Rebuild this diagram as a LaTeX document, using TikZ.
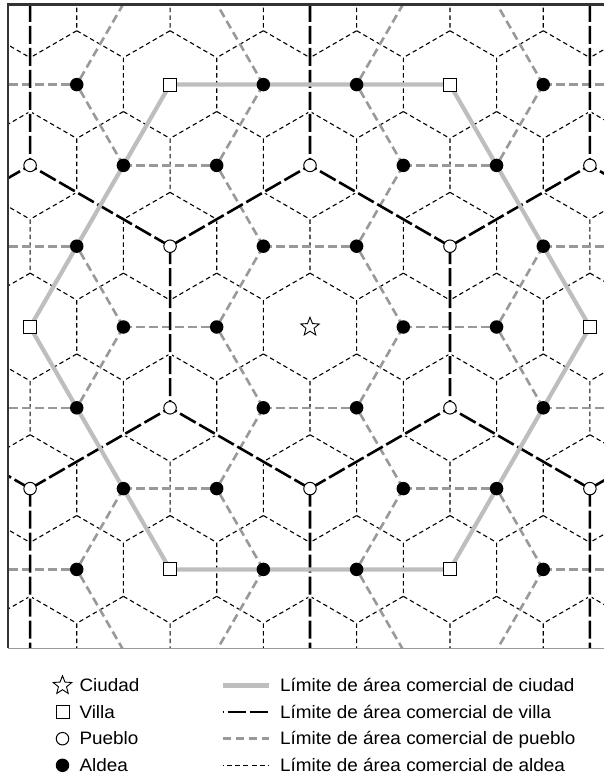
\documentclass[tikz,border=0pt]{standalone}
\usepackage{fontspec}
\setmainfont{Liberation Sans}[FakeStretch=1.05]
\usetikzlibrary{shapes.geometric}
\definecolor{pgrey}{HTML}{999999}
\definecolor{cgrey}{HTML}{BEBEBE}
\definecolor{frm}{HTML}{333333}
\tikzset{
  aldealine/.style={line width=1.1pt, dash pattern=on 4.5pt off 3.2pt, black},
  puebloline/.style={line width=2.6pt, dash pattern=on 8.5pt off 4.5pt, pgrey},
  villaline/.style={line width=2.6pt, dash pattern=on 18pt off 4pt, black},
  villaunder/.style={line width=3.4pt, white},
  ciudadline/.style={line width=4.2pt, cgrey},
  aldeamark/.style={circle, fill=black, minimum size=13.5pt, inner sep=0pt},
  pueblomark/.style={circle, draw=black, fill=white, line width=1pt, minimum size=12.5pt, inner sep=0pt},
  villamark/.style={rectangle, draw=black, fill=white, line width=1pt, minimum size=13pt, inner sep=0pt},
  ciudadmark/.style={star, star points=5, star point ratio=2.3, draw=black, fill=white, line width=0.9pt, minimum size=19.5pt, inner sep=0pt},
  lbl/.style={anchor=base west, inner sep=0pt, font=\fontsize{18}{20}\selectfont},
}
\def\A{93.3}
\def\Hh{80.8}
\def\CX{310}
\def\CY{327}
\begin{document}
\begin{tikzpicture}[x=1pt,y=-1pt]
\useasboundingbox (0,0) rectangle (604,778);
% lattice coordinates
\foreach \j in {-6,...,6}{\foreach \i in {-10,...,10}{
  \coordinate (p\i x\j) at ({\CX+\A*(\i)+\A/2*(\j)},{\CY-\Hh*(\j)});
}}
\begin{scope}
\clip (8,4.5) rectangle (612,648);
% aldea boundaries
\foreach \j in {-5,...,5}{\foreach \i in {-8,...,8}{
  \draw[aldealine, shift={(p\i x\j)}] (0,-53.87) -- (46.65,-26.93) -- (46.65,26.93) -- (0,53.87);
}}
% villa underlay
\foreach \j in {-4,...,4}{\foreach \i in {-8,...,8}{
  \pgfmathtruncatemacro\d{Mod((\i)-(\j),3)}
  \pgfmathtruncatemacro\r{Mod(\i,3)}
  \ifnum\d=0 \ifnum\r=1
    \pgfmathtruncatemacro\ip{\i+1}
    \pgfmathtruncatemacro\imm{\i-2}
    \pgfmathtruncatemacro\jp{\j+1}
    \pgfmathtruncatemacro\jmm{\j-2}
    \draw[villaunder] (p\i x\j) -- (p\ip x\jp);
    \draw[villaunder] (p\i x\j) -- (p\imm x\jp);
    \draw[villaunder] (p\i x\j) -- (p\ip x\jmm);
  \fi\fi
}}
% pueblo boundaries
\foreach \j in {-5,...,5}{\foreach \i in {-9,...,9}{
  \pgfmathtruncatemacro\d{Mod((\i)-(\j),3)}
  \ifnum\d=1
    \pgfmathtruncatemacro\ip{\i+1}
    \pgfmathtruncatemacro\im{\i-1}
    \pgfmathtruncatemacro\jp{\j+1}
    \pgfmathtruncatemacro\jm{\j-1}
    \draw[puebloline] (p\i x\j) -- (p\ip x\j);
    \draw[puebloline] (p\i x\j) -- (p\i x\jm);
    \draw[puebloline] (p\i x\j) -- (p\im x\jp);
  \fi
}}
% villa boundaries
\foreach \j in {-4,...,4}{\foreach \i in {-8,...,8}{
  \pgfmathtruncatemacro\d{Mod((\i)-(\j),3)}
  \pgfmathtruncatemacro\r{Mod(\i,3)}
  \ifnum\d=0 \ifnum\r=1
    \pgfmathtruncatemacro\ip{\i+1}
    \pgfmathtruncatemacro\imm{\i-2}
    \pgfmathtruncatemacro\jp{\j+1}
    \pgfmathtruncatemacro\jmm{\j-2}
    \draw[villaline] (p\i x\j) -- (p\ip x\jp);
    \draw[villaline] (p\i x\j) -- (p\imm x\jp);
    \draw[villaline] (p\i x\j) -- (p\ip x\jmm);
  \fi\fi
}}
% ciudad boundary
\draw[ciudadline, line join=round] (p3x0) -- (p0x3) -- (p-3x3) -- (p-3x0) -- (p0x-3) -- (p3x-3) -- cycle;
% markers
\foreach \j in {-3,...,3}{\foreach \i in {-7,...,7}{
  \pgfmathsetmacro\xx{\CX+\A*(\i)+\A/2*(\j)}
  \ifdim\xx pt>15pt \ifdim\xx pt<600pt
    \pgfmathtruncatemacro\d{Mod((\i)-(\j),3)}
    \pgfmathtruncatemacro\r{Mod(\i,3)}
    \pgfmathtruncatemacro\q{Mod(((\i)-(\j))/3,3)}
    \ifnum\d>0
      \node[aldeamark] (m\i x\j) at (p\i x\j) {};
    \else\ifnum\r>0
      \node[pueblomark] (m\i x\j) at (p\i x\j) {};
    \else\ifnum\q>0
      \node[villamark] (m\i x\j) at (p\i x\j) {};
    \else
      \node[ciudadmark] (m\i x\j) at (p\i x\j) {};
    \fi\fi\fi
  \fi\fi
}}
\end{scope}
% frame
\draw[pgrey, line width=0.8pt] (8,648) -- (612,648);
\draw[frm, line width=2.3pt] (8,648) -- (8,4.5) -- (612,4.5);
% legend, left column
\node[ciudadmark] (lc) at (62.5,685.5) {};
\node[lbl] (lct) at (79.3,691.7) {Ciudad};
\node[villamark] (lv) at (62.5,712.1) {};
\node[lbl] (lvt) at (79.3,718.3) {Villa};
\node[pueblomark] (lp) at (62.5,738.7) {};
\node[lbl] (lpt) at (79.3,744.9) {Pueblo};
\node[aldeamark] (la) at (62.5,765.3) {};
\node[lbl] (lat) at (79.3,771.5) {Aldea};
% legend, right column
\coordinate (r1a) at (222.7,685.5); \coordinate (r1b) at (269.3,685.5);
\coordinate (r2a) at (222.7,712.1); \coordinate (r2b) at (269.3,712.1);
\coordinate (r3a) at (222.7,738.7); \coordinate (r3b) at (269.3,738.7);
\coordinate (r4a) at (222.7,765.3); \coordinate (r4b) at (269.3,765.3);
\draw[ciudadline] (r1a) -- (r1b);
\draw[villaline, dash phase=17pt] (r2a) -- (r2b);
\draw[puebloline] (r3a) -- (r3b);
\draw[aldealine, dash pattern=on 5pt off 3.2pt, dash phase=4pt] (r4a) -- (r4b);
\node[lbl] (t1) at (280,691.7) {Límite de área comercial de ciudad};
\node[lbl] (t2) at (280,718.3) {Límite de área comercial de villa};
\node[lbl] (t3) at (280,744.9) {Límite de área comercial de pueblo};
\node[lbl] (t4) at (280,771.5) {Límite de área comercial de aldea};
\end{tikzpicture}
\end{document}
